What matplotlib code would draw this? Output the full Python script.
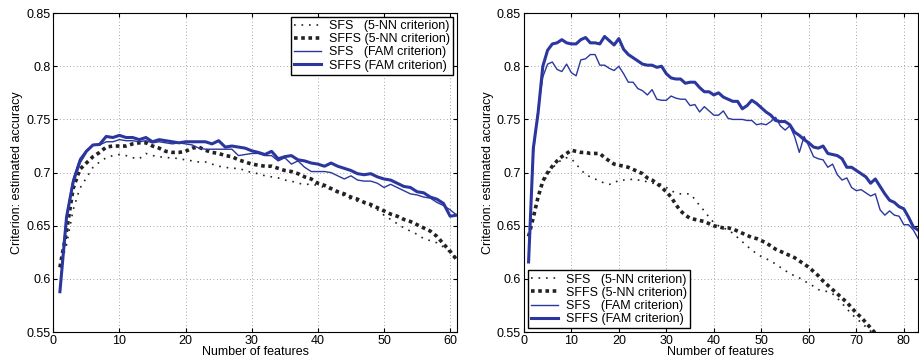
import matplotlib.pyplot as plt
import numpy as np

plt.rcParams['font.family'] = ['Liberation Sans', 'DejaVu Sans']
plt.rcParams['font.size'] = 9

# left panel: 1..61 features
x_left = np.arange(1, 62)
sfs_nn_left = [0.611, 0.632, 0.665, 0.685, 0.695, 0.705, 0.710, 0.714, 0.716, 0.717,
               0.716, 0.714, 0.713, 0.718, 0.716, 0.715, 0.714, 0.714, 0.713, 0.712,
               0.711, 0.710, 0.710, 0.708, 0.706, 0.705, 0.704, 0.704, 0.702, 0.700,
               0.699, 0.697, 0.696, 0.695, 0.693, 0.692, 0.690, 0.689, 0.689, 0.688,
               0.686, 0.684, 0.681, 0.678, 0.675, 0.673, 0.671, 0.668, 0.665, 0.660,
               0.656, 0.652, 0.648, 0.645, 0.642, 0.638, 0.636, 0.634, 0.630, 0.625,
               0.619]
sffs_nn_left = [0.611, 0.645, 0.685, 0.703, 0.709, 0.715, 0.719, 0.724, 0.725, 0.725,
                0.725, 0.727, 0.728, 0.728, 0.725, 0.723, 0.720, 0.719, 0.719, 0.720,
                0.723, 0.724, 0.721, 0.719, 0.718, 0.716, 0.715, 0.712, 0.710, 0.708,
                0.707, 0.706, 0.706, 0.704, 0.702, 0.701, 0.699, 0.696, 0.694, 0.690,
                0.688, 0.685, 0.682, 0.680, 0.677, 0.675, 0.672, 0.670, 0.667, 0.664,
                0.661, 0.659, 0.656, 0.654, 0.651, 0.648, 0.645, 0.640, 0.633, 0.626,
                0.618]
sfs_fam_left = [0.588, 0.660, 0.694, 0.713, 0.721, 0.726, 0.726, 0.729, 0.729, 0.731,
                0.730, 0.730, 0.729, 0.730, 0.728, 0.729, 0.728, 0.727, 0.728, 0.727,
                0.726, 0.723, 0.722, 0.722, 0.722, 0.722, 0.722, 0.716, 0.717, 0.718,
                0.718, 0.716, 0.716, 0.711, 0.714, 0.708, 0.711, 0.705, 0.701, 0.701,
                0.701, 0.700, 0.697, 0.694, 0.697, 0.693, 0.692, 0.692, 0.690, 0.686,
                0.689, 0.686, 0.683, 0.680, 0.679, 0.677, 0.676, 0.672, 0.669, 0.665,
                0.660]
sffs_fam_left = [0.588, 0.658, 0.691, 0.710, 0.720, 0.726, 0.7265, 0.734, 0.733, 0.735,
                 0.733, 0.733, 0.731, 0.733, 0.729, 0.731, 0.730, 0.729, 0.728, 0.729,
                 0.729, 0.729, 0.729, 0.727, 0.730, 0.724, 0.725, 0.724, 0.723, 0.7205,
                 0.719, 0.717, 0.720, 0.713, 0.715, 0.716, 0.712, 0.711, 0.709, 0.708,
                 0.706, 0.709, 0.706, 0.704, 0.702, 0.699, 0.698, 0.699, 0.696, 0.694,
                 0.693, 0.690, 0.687, 0.686, 0.682, 0.681, 0.677, 0.675, 0.671, 0.659,
                 0.660]

# right panel: 1..83 features
x_right = np.arange(1, 84)
sfs_nn_right = [0.640, 0.656, 0.675, 0.690, 0.698, 0.704, 0.709, 0.712, 0.714, 0.713,
                0.708, 0.703, 0.698, 0.696, 0.694, 0.692, 0.690, 0.689, 0.690, 0.693,
                0.693, 0.693, 0.694, 0.693, 0.693, 0.691, 0.690, 0.690, 0.689, 0.686,
                0.683, 0.681, 0.680, 0.680, 0.680, 0.675, 0.669, 0.664, 0.658, 0.653,
                0.650, 0.648, 0.646, 0.643, 0.639, 0.635, 0.631, 0.627, 0.624, 0.621,
                0.619, 0.617, 0.614, 0.611, 0.608, 0.605, 0.603, 0.601, 0.598, 0.596,
                0.593, 0.590, 0.589, 0.588, 0.586, 0.582, 0.577, 0.572, 0.567, 0.563,
                0.559, 0.555, 0.551, 0.547, 0.543, 0.539, 0.535, 0.531, 0.527, 0.523,
                0.519, 0.515, 0.511]
sffs_nn_right = [0.640, 0.658, 0.677, 0.692, 0.700, 0.706, 0.711, 0.715, 0.718, 0.721,
                 0.720, 0.719, 0.719, 0.718, 0.718, 0.718, 0.714, 0.711, 0.708, 0.707,
                 0.706, 0.705, 0.703, 0.701, 0.699, 0.695, 0.693, 0.690, 0.686, 0.682,
                 0.677, 0.670, 0.664, 0.660, 0.657, 0.656, 0.655, 0.654, 0.652, 0.650,
                 0.649, 0.648, 0.648, 0.647, 0.645, 0.643, 0.641, 0.639, 0.638, 0.636,
                 0.634, 0.631, 0.628, 0.626, 0.624, 0.622, 0.620, 0.617, 0.614, 0.611,
                 0.607, 0.603, 0.598, 0.594, 0.590, 0.586, 0.582, 0.578, 0.573, 0.568,
                 0.564, 0.559, 0.554, 0.549, 0.544, 0.539, 0.534, 0.529, 0.524, 0.519,
                 0.514, 0.509, 0.504]
sfs_fam_right = [0.616, 0.718, 0.760, 0.790, 0.802, 0.804, 0.797, 0.795, 0.802, 0.794,
                 0.791, 0.806, 0.807, 0.811, 0.811, 0.801, 0.801, 0.798, 0.796, 0.800,
                 0.793, 0.785, 0.785, 0.779, 0.777, 0.773, 0.778, 0.769, 0.768, 0.768,
                 0.772, 0.770, 0.769, 0.769, 0.763, 0.764, 0.757, 0.762, 0.758, 0.754,
                 0.754, 0.758, 0.751, 0.750, 0.750, 0.750, 0.749, 0.749, 0.745, 0.746,
                 0.745, 0.748, 0.752, 0.744, 0.740, 0.744, 0.734, 0.719, 0.734, 0.725,
                 0.715, 0.713, 0.712, 0.705, 0.708, 0.698, 0.693, 0.695, 0.686, 0.683,
                 0.684, 0.681, 0.678, 0.680, 0.665, 0.660, 0.664, 0.660, 0.659, 0.651,
                 0.651, 0.646, 0.638]
sffs_fam_right = [0.616, 0.723, 0.756, 0.800, 0.815, 0.821, 0.822, 0.825, 0.822, 0.821,
                  0.821, 0.825, 0.827, 0.822, 0.822, 0.821, 0.828, 0.824, 0.820, 0.826,
                  0.816, 0.811, 0.808, 0.805, 0.802, 0.801, 0.801, 0.799, 0.800, 0.793,
                  0.789, 0.788, 0.788, 0.784, 0.785, 0.785, 0.780, 0.776, 0.776, 0.773,
                  0.775, 0.771, 0.769, 0.767, 0.767, 0.760, 0.763, 0.768, 0.765, 0.761,
                  0.757, 0.754, 0.749, 0.748, 0.748, 0.745, 0.738, 0.735, 0.731, 0.728,
                  0.724, 0.723, 0.725, 0.718, 0.717, 0.716, 0.713, 0.705, 0.705, 0.702,
                  0.699, 0.696, 0.690, 0.694, 0.687, 0.680, 0.674, 0.672, 0.668, 0.666,
                  0.658, 0.649, 0.646]

labels = ['SFS   (5-NN criterion)', 'SFFS (5-NN criterion)',
          'SFS   (FAM criterion)', 'SFFS (FAM criterion)']

blue = '#2b379e'

fig = plt.figure(figsize=(9.19, 3.63), dpi=100)
ax1 = fig.add_axes([0.058, 0.085, 0.439, 0.879])
ax2 = fig.add_axes([0.570, 0.085, 0.429, 0.879])


def draw(ax, x, s1, s2, s3, s4, xmax, xticks, loc):
    ax.plot(x, s1, color='#222222', lw=1.2, ls=(0, (1, 3.5)), label=labels[0])
    ax.plot(x, s2, color='#222222', lw=2.6, ls=(0, (1, 1)), label=labels[1])
    ax.plot(x, s3, color=blue, lw=1.0, label=labels[2])
    ax.plot(x, s4, color=blue, lw=2.2, label=labels[3])
    ax.set_xlim(0, xmax)
    ax.set_ylim(0.55, 0.85)
    ax.set_xticks(xticks)
    ax.set_yticks([0.55, 0.6, 0.65, 0.7, 0.75, 0.8, 0.85])
    ax.set_yticklabels(['0.55', '0.6', '0.65', '0.7', '0.75', '0.8', '0.85'])
    ax.grid(True, color='#888888', ls=(0, (1, 3)), lw=0.6)
    ax.tick_params(direction='in', top=True, right=True, length=3, pad=2)
    ax.set_xlabel('Number of features', labelpad=-1)
    ax.set_ylabel('Criterion: estimated accuracy', labelpad=2)
    for sp in ax.spines.values():
        sp.set_linewidth(0.8)
    leg = ax.legend(loc=loc, fancybox=False, framealpha=1, edgecolor='black',
                    handlelength=2.2, handletextpad=0.6, borderpad=0.25,
                    labelspacing=0.1, borderaxespad=0.3)
    leg.get_frame().set_linewidth(1.0)


draw(ax1, x_left, sfs_nn_left, sffs_nn_left, sfs_fam_left, sffs_fam_left,
     61, range(0, 61, 10), 'upper right')
draw(ax2, x_right, sfs_nn_right, sffs_nn_right, sfs_fam_right, sffs_fam_right,
     83, range(0, 81, 10), 'lower left')

fig.savefig('out.png', dpi=100)
